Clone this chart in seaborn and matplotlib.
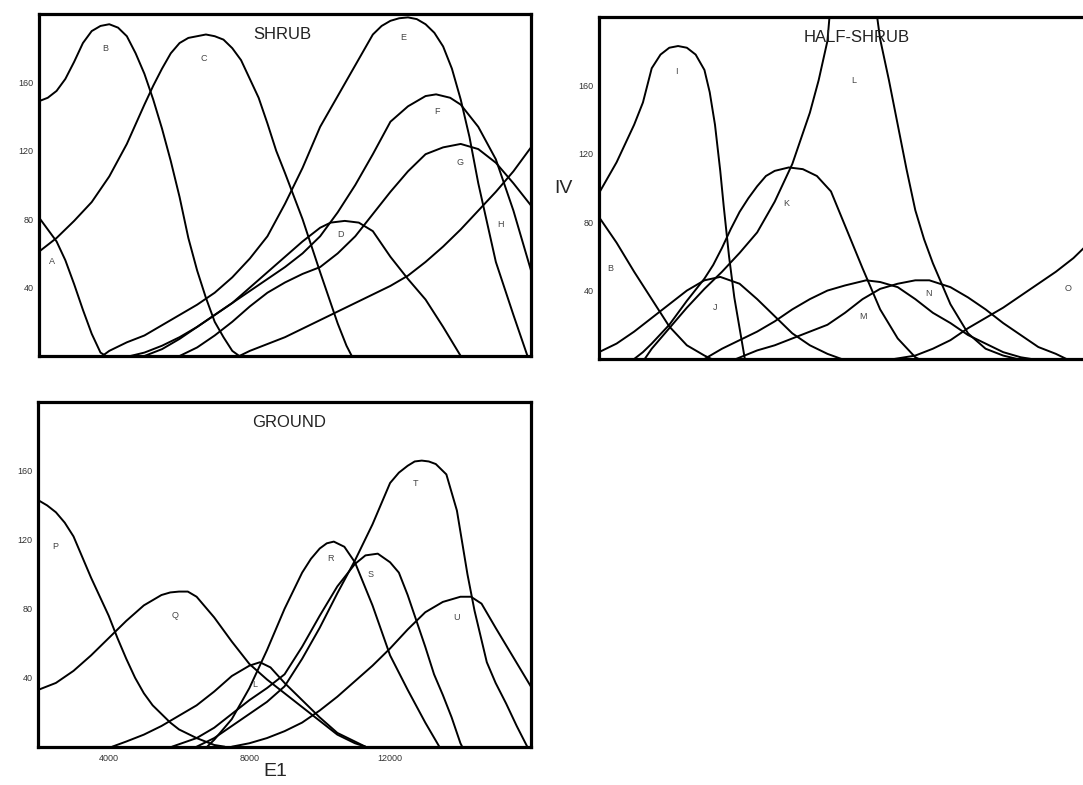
"""
Importance value (IV) response curves along the E1 gradient
for the shrub, half-shrub and ground layers.
"""

import pandas as pd
import matplotlib
matplotlib.use("Agg")
import matplotlib.pyplot as plt
import seaborn as sns

# ─────────────────────────────────────────────
# DATA  (E1, IV) points
# ─────────────────────────────────────────────
# SHRUB layer
shrub_A = [(2000, 81), (2500, 67), (2750, 56), (3000, 42), (3250, 27), (3500, 13), (3750, 2), (3900, 0)]
shrub_B = [(2000, 149), (2250, 151), (2500, 155), (2750, 162), (3000, 172), (3250, 183), (3500, 190),
           (3750, 193), (4000, 194), (4250, 192), (4500, 187), (4750, 177), (5000, 165), (5250, 150),
           (5500, 133), (5750, 114), (6000, 93), (6250, 69), (6500, 50), (6750, 34), (7000, 20),
           (7250, 11), (7500, 3), (7700, 0)]
shrub_C = [(2000, 61), (2500, 69), (3000, 79), (3500, 90), (4000, 105), (4500, 124), (5000, 147),
           (5250, 158), (5500, 168), (5750, 177), (6000, 183), (6250, 186), (6500, 187), (6750, 188),
           (7000, 187), (7250, 185), (7500, 180), (7750, 173), (8000, 162), (8250, 151), (8500, 136),
           (8750, 120), (9000, 107), (9500, 80), (10000, 49), (10500, 19), (10750, 6), (10900, 0)]
shrub_D = [(4600, 0), (5000, 2), (5500, 6), (6000, 11), (6500, 17), (7000, 24), (7500, 31), (8000, 40),
           (8500, 49), (9000, 58), (9500, 67), (10000, 75), (10300, 78), (10700, 79), (11100, 78),
           (11500, 73), (12000, 58), (12500, 45), (13000, 33), (13500, 17), (14000, 0)]
shrub_E = [(3800, 0), (4000, 3), (4500, 8), (5000, 12), (5500, 18), (6000, 24), (6500, 30), (7000, 37),
           (7500, 46), (8000, 57), (8500, 70), (9000, 89), (9500, 110), (10000, 134), (10500, 152),
           (11000, 170), (11500, 188), (11750, 193), (12000, 196), (12250, 197.5), (12500, 198),
           (12750, 197), (13000, 194), (13250, 189), (13500, 181), (13750, 168), (14000, 150),
           (14250, 128), (14500, 101), (14750, 78), (15000, 55), (15500, 24), (15900, 0)]
shrub_F = [(5000, 0), (5500, 4), (6000, 10), (6500, 17), (7000, 24), (7500, 31), (8000, 38), (8500, 45),
           (9000, 52), (9500, 60), (10000, 70), (10500, 84), (11000, 100), (11500, 118), (12000, 137),
           (12500, 146), (13000, 152), (13300, 153), (13700, 151), (14000, 147), (14500, 134),
           (15000, 115), (15500, 85), (16000, 50)]
shrub_G = [(6000, 0), (6500, 5), (7000, 12), (7500, 20), (8000, 29), (8500, 37), (9000, 43), (9500, 48),
           (10000, 52), (10500, 60), (11000, 70), (11500, 83), (12000, 96), (12500, 108), (13000, 118),
           (13500, 122), (14000, 124), (14500, 121), (15000, 113), (15500, 101), (16000, 88)]
shrub_H = [(7700, 0), (8000, 3), (8500, 7), (9000, 11), (9500, 16), (10000, 21), (10500, 26), (11000, 31),
           (11500, 36), (12000, 41), (12500, 47), (13000, 55), (13500, 64), (14000, 74), (14500, 85),
           (15000, 96), (15500, 108), (16000, 122)]

# HALF-SHRUB layer
half_B = [(2000, 83), (2500, 68), (3000, 51), (3500, 35), (4000, 19), (4500, 8), (5000, 2), (5200, 0)]
half_I = [(2000, 97), (2500, 115), (3000, 137), (3250, 150), (3500, 170), (3750, 178), (4000, 182),
          (4250, 183), (4500, 182), (4750, 178), (5000, 169), (5150, 156), (5300, 137), (5450, 110),
          (5550, 89), (5700, 60), (5850, 36), (6000, 18), (6150, 0)]
half_J = [(2000, 4), (2500, 9), (3000, 16), (3500, 24), (4000, 32), (4500, 40), (5000, 46), (5450, 48),
          (6000, 44), (6500, 35), (7000, 25), (7500, 15), (8000, 8), (8500, 3), (8900, 0)]
half_K = [(3000, 0), (3250, 4), (3500, 9), (4000, 20), (4500, 34), (5000, 47), (5250, 55), (5500, 65),
          (5750, 76), (6000, 86), (6250, 94), (6500, 101), (6750, 107), (7000, 110), (7400, 112),
          (7800, 111), (8200, 107), (8600, 98), (9000, 78), (9500, 53), (10000, 29), (10500, 12),
          (11000, 1), (11100, 0)]
half_L = [(3300, 0), (3500, 6), (4000, 18), (4500, 30), (5000, 41), (5500, 51), (6000, 62), (6500, 74),
          (7000, 92), (7500, 114), (8000, 144), (8250, 163), (8500, 186), (8600, 210), (8800, 235),
          (9250, 250), (9750, 225), (10000, 187), (10250, 163), (10500, 137), (10750, 111),
          (11000, 87), (11250, 70), (11500, 56), (11750, 44), (12000, 32), (12500, 15), (13000, 6),
          (13500, 2), (13900, 0)]
half_M = [(5000, 0), (5500, 6), (6000, 11), (6500, 16), (7000, 22), (7500, 29), (8000, 35), (8500, 40),
          (9000, 43), (9600, 46), (10000, 45), (10500, 42), (11000, 35), (11500, 27), (12000, 21),
          (12500, 14), (13000, 9), (13500, 4), (14000, 1), (14300, 0)]
half_N = [(5900, 0), (6500, 5), (7000, 8), (7500, 12), (8000, 16), (8500, 20), (9000, 27), (9500, 35),
          (10000, 41), (10500, 44), (11000, 46), (11400, 46), (12000, 42), (12500, 36), (13000, 29),
          (13500, 21), (14000, 14), (14500, 7), (15000, 3), (15300, 0)]
half_O = [(10400, 0), (11000, 2), (11500, 6), (12000, 11), (12500, 18), (13000, 24), (13500, 30),
          (14000, 37), (14500, 44), (15000, 51), (15500, 59), (16000, 69)]

# GROUND layer
ground_P = [(2000, 143), (2250, 140), (2500, 136), (2750, 130), (3000, 122), (3250, 110), (3500, 98),
            (3750, 87), (4000, 76), (4250, 63), (4500, 51), (4750, 40), (5000, 31), (5250, 24),
            (5500, 19), (5750, 14), (6000, 10), (6500, 5), (7000, 1), (7300, 0)]
ground_Q = [(2000, 33), (2500, 37), (3000, 44), (3500, 53), (4000, 63), (4500, 73), (5000, 82),
            (5500, 88), (5750, 89.5), (6000, 90), (6250, 90), (6500, 87), (7000, 75), (7500, 61),
            (8000, 48), (8500, 39), (9000, 31), (9500, 23), (10000, 15), (10500, 7), (11000, 2),
            (11300, 0)]
ground_L = [(4100, 0), (4500, 3), (5000, 7), (5500, 12), (6000, 18), (6500, 24), (7000, 32), (7500, 41),
            (8000, 47), (8300, 49), (8600, 46), (9000, 37), (9500, 27), (10000, 17), (10500, 8),
            (11000, 3), (11300, 0)]
ground_R = [(6800, 0), (7000, 4), (7500, 16), (8000, 34), (8500, 56), (9000, 80), (9500, 101),
            (9750, 109), (10000, 115), (10200, 118), (10400, 119), (10700, 116), (11000, 107),
            (11500, 82), (12000, 53), (12500, 33), (13000, 14), (13400, 0)]
ground_S = [(5800, 0), (6500, 5), (7000, 11), (7500, 19), (8000, 27), (8500, 34), (9000, 42), (9500, 58),
            (10000, 76), (10500, 93), (11000, 106), (11300, 111), (11650, 112), (12000, 107),
            (12250, 101), (12500, 88), (12750, 73), (13000, 58), (13250, 42), (13500, 30),
            (13750, 17), (14000, 2), (14050, 0)]
ground_T = [(6500, 0), (7000, 5), (7500, 12), (8000, 19), (8500, 26), (9000, 35), (9500, 51), (10000, 69),
            (10500, 89), (11000, 108), (11500, 129), (12000, 153), (12250, 159), (12500, 163),
            (12700, 165.5), (12900, 166), (13100, 165.5), (13300, 164), (13600, 158), (13900, 137),
            (14200, 100), (14400, 79), (14750, 49), (15000, 37), (15300, 25), (15600, 12), (15900, 0)]
ground_U = [(7500, 0), (8000, 2), (8500, 5), (9000, 9), (9500, 14), (10000, 21), (10500, 29), (11000, 38),
            (11500, 47), (12000, 57), (12500, 68), (13000, 78), (13500, 84), (14000, 87), (14300, 87),
            (14600, 83), (15000, 69), (15500, 52), (16000, 35)]

# curve letters: (E1, IV) where they are printed
shrub_labels = {"A": (2360, 55), "B": (3880, 180), "C": (6680, 174), "D": (10570, 71),
                "E": (12370, 186), "F": (13320, 143), "G": (13980, 113), "H": (15120, 77)}
half_labels = {"B": (2310, 53), "I": (4210, 168), "J": (5300, 30), "K": (7340, 91),
               "L": (9240, 163), "M": (9520, 25), "N": (11370, 38), "O": (15360, 41)}
ground_labels = {"P": (2480, 116), "Q": (5890, 76), "L": (8140, 36), "R": (10300, 109),
                 "S": (11440, 100), "T": (12720, 153), "U": (13900, 75)}

iv_ticks = [40, 80, 120, 160]
e1_ticks = [4000, 8000, 12000]
e1_minor = [2000, 6000, 10000, 14000, 16000]


# ─────────────────────────────────────────────
# HELPERS
# ─────────────────────────────────────────────
def to_frame(curves: dict) -> pd.DataFrame:
    """Stack the point lists into one long table for seaborn."""
    parts = []
    for name, pts in curves.items():
        d = pd.DataFrame(pts, columns=["E1", "IV"])
        d["species"] = name
        parts.append(d)
    return pd.concat(parts, ignore_index=True)


def draw_panel(ax, curves: dict, labels: dict, title: str, title_x: float):
    df = to_frame(curves)
    sns.lineplot(data=df, x="E1", y="IV", units="species", estimator=None, sort=False,
                 color="black", linewidth=1.4, ax=ax, legend=False)
    ax.set_xlim(2000, 16000)
    ax.set_ylim(0, 200)
    ax.set_xlabel("")
    ax.set_ylabel("")
    ax.set_yticks(iv_ticks)
    ax.set_yticklabels([str(t) for t in iv_ticks])
    ax.tick_params(axis="y", length=0, pad=4, labelsize=6.5, labelcolor="#333333")
    ax.set_xticks([])
    for sp in ax.spines.values():
        sp.set_visible(True)
        sp.set_color("black")
        sp.set_linewidth(2.3)
    for letter, (x, y) in labels.items():
        ax.text(x, y, letter, fontsize=6.5, color="#444444", ha="center", va="center")
    ax.text(title_x, 0.94, title, transform=ax.transAxes, ha="center", va="center",
            fontsize=12, color="#222222")


# ─────────────────────────────────────────────
# FIGURE
# ─────────────────────────────────────────────
sns.set_style("white")
plt.rcParams["font.family"] = ["Liberation Sans", "DejaVu Sans"]

fig = plt.figure(figsize=(10.83, 7.85), dpi=100)

ax_shrub = fig.add_axes([0.036, 0.5465, 0.4543, 0.4357])
ax_half = fig.add_axes([0.5531, 0.5427, 0.4543, 0.4357])
ax_ground = fig.add_axes([0.0354, 0.0488, 0.4547, 0.4391])

draw_panel(ax_shrub,
           {"A": shrub_A, "B": shrub_B, "C": shrub_C, "D": shrub_D,
            "E": shrub_E, "F": shrub_F, "G": shrub_G, "H": shrub_H},
           shrub_labels, "SHRUB", 0.494)
draw_panel(ax_half,
           {"B": half_B, "I": half_I, "J": half_J, "K": half_K,
            "L": half_L, "M": half_M, "N": half_N, "O": half_O},
           half_labels, "HALF-SHRUB", 0.524)
draw_panel(ax_ground,
           {"P": ground_P, "Q": ground_Q, "L": ground_L, "R": ground_R,
            "S": ground_S, "T": ground_T, "U": ground_U},
           ground_labels, "GROUND", 0.51)

# only the ground panel carries the E1 scale
ax_ground.set_xticks(e1_ticks)
ax_ground.set_xticklabels([str(t) for t in e1_ticks])
ax_ground.set_xticks(e1_minor, minor=True)
ax_ground.tick_params(axis="x", which="both", direction="out", length=3, width=1,
                      pad=2, labelsize=6.5, labelcolor="#333333")

fig.text(0.52, 0.76, "IV", fontsize=14, ha="center", va="center")
fig.text(0.254, 0.0166, "E1", fontsize=14, ha="center", va="center")

fig.savefig("out.png", dpi=100)
